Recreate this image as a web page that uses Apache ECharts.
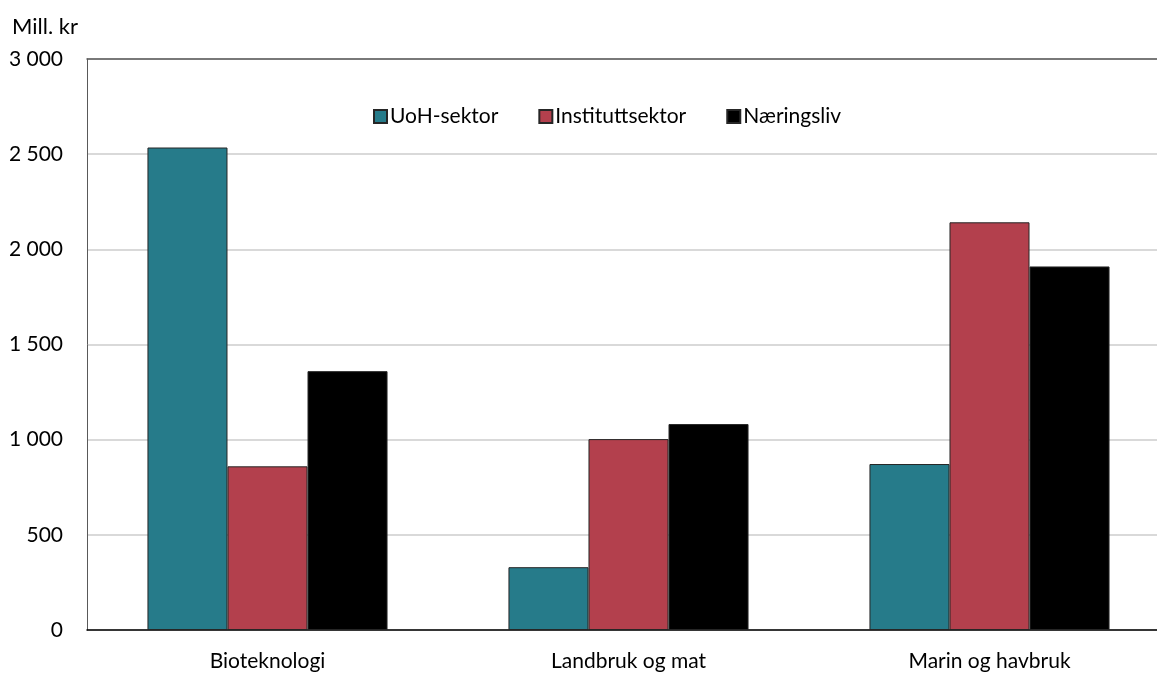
<!DOCTYPE html>
<html>
<head>
<meta charset="utf-8">
<script src="https://cdn.jsdelivr.net/npm/echarts@6/dist/echarts.min.js"></script>
<style>
  html, body { margin: 0; padding: 0; background: #fff; }
  #chart { width: 1157px; height: 673px; }
</style>
</head>
<body>
<div id="chart"></div>
<script>
const categories = ['Bioteknologi', 'Landbruk og mat', 'Marin og havbruk']
const seriesNames = ['UoH-sektor', 'Instituttsektor', 'Næringsliv']
const uohValues = [2535, 330, 872]
const instituttValues = [860, 1003, 2142]
const naeringslivValues = [1360, 1082, 1910]
const yTicks = [0, 500, 1000, 1500, 2000, 2500, 3000]

const colors = ['#267b8a', '#b3404d', '#000000']
const fontFamily = 'Lato, "Open Sans", sans-serif'

const chart = echarts.init(document.getElementById('chart'))

function fmt(v) {
  return String(v).replace(/\B(?=(\d{3})+(?!\d))/g, ' ')
}

const valueSets = [uohValues, instituttValues, naeringslivValues]
const series = seriesNames.map((name, i) => ({
  name: name,
  type: 'bar',
  data: valueSets[i],
  barGap: '0%',
  barCategoryGap: '33.5%',
  itemStyle: {
    color: colors[i],
    borderColor: '#262626',
    borderWidth: 1
  }
}))

chart.setOption({
  animation: false,
  color: colors,
  textStyle: { fontFamily: fontFamily },
  title: {
    text: 'Mill. kr',
    left: 7,
    top: 11,
    textStyle: { fontSize: 22, color: '#000', fontWeight: 'normal', fontFamily: fontFamily }
  },
  legend: {
    left: 368,
    top: 101,
    itemWidth: 13,
    itemHeight: 13,
    itemGap: 40,
    icon: 'rect',
    textStyle: { fontSize: 21, color: '#000', padding: [0, 0, 0, -2] },
    data: seriesNames
  },
  grid: {
    left: 87,
    right: -13,
    top: 59,
    bottom: 43,
    containLabel: false,
    outerBoundsMode: 'none'
  },
  xAxis: [{
    type: 'category',
    data: categories,
    axisTick: { show: false },
    axisLine: { lineStyle: { color: '#000', width: 1.5 } },
    axisLabel: { fontSize: 21, color: '#000', margin: 21 }
  }, {
    type: 'category',
    position: 'top',
    data: categories,
    axisTick: { show: false },
    axisLabel: { show: false },
    axisLine: { lineStyle: { color: '#595959', width: 1.5 } }
  }],
  yAxis: {
    type: 'value',
    min: yTicks[0],
    max: yTicks[yTicks.length - 1],
    interval: 500,
    axisLine: { show: true, lineStyle: { color: '#595959', width: 1 } },
    axisTick: { show: false },
    splitLine: { lineStyle: { color: '#d9d9d9', width: 2 } },
    axisLabel: {
      fontSize: 21,
      color: '#000',
      margin: 24,
      formatter: v => fmt(v)
    }
  },
  series: series
})
</script>
</body>
</html>
